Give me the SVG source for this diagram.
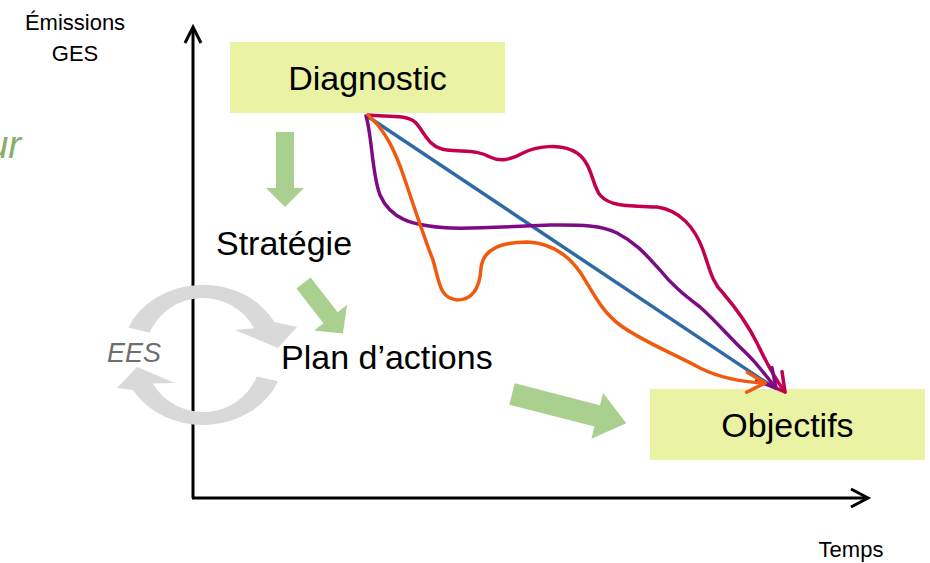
<svg xmlns="http://www.w3.org/2000/svg" width="930" height="563" viewBox="0 0 930 563">
  <style>
    .lbl { font-family: "Liberation Sans", Arial, sans-serif; fill: #000; }
    .big { font-size: 34px; }
    .small { font-size: 22px; }
    .box { fill: #e9f3a3; }
    .garrow { fill: #a9d08e; }
    .gray { fill: #d9d9d9; }
    .axis { stroke: #000; stroke-width: 3; fill: none; }
    .curve { fill: none; stroke-width: 3.5; stroke-linecap: round; stroke-linejoin: round; }
  </style>
  <defs>
    <marker id="mCrimson" markerUnits="userSpaceOnUse" markerWidth="30" markerHeight="30" viewBox="0 0 30 30" refX="26" refY="15" orient="auto">
      <path d="M8,5 L26,15 L8,25" fill="none" stroke="#c3004f" stroke-width="3.5" stroke-linecap="round" stroke-linejoin="round"/>
    </marker>
    <marker id="mPurple" markerUnits="userSpaceOnUse" markerWidth="30" markerHeight="30" viewBox="0 0 30 30" refX="26" refY="15" orient="auto">
      <path d="M8,5 L26,15 L8,25" fill="none" stroke="#7e0b86" stroke-width="3.5" stroke-linecap="round" stroke-linejoin="round"/>
    </marker>
    <marker id="mOrange" markerUnits="userSpaceOnUse" markerWidth="30" markerHeight="30" viewBox="0 0 30 30" refX="26" refY="15" orient="auto">
      <path d="M8,5 L26,15 L8,25" fill="none" stroke="#f05a0e" stroke-width="3.5" stroke-linecap="round" stroke-linejoin="round"/>
    </marker>
  </defs>

  <rect width="930" height="563" fill="#ffffff"/>

  <!-- partial cropped text at left -->
  <text x="21" y="158" font-family="Liberation Sans, Arial, sans-serif" font-size="38" font-style="italic" fill="#8aac6f" text-anchor="end">ur</text>

  <!-- axes -->
  <g id="axes">
    <line class="axis" x1="193" y1="28" x2="193" y2="498"/>
    <line class="axis" x1="192" y1="498" x2="867" y2="498"/>
    <polyline class="axis" points="185,43 193,27 201,43"/>
    <polyline class="axis" points="851,489 868,498 851,507"/>
    <text class="lbl small" x="75" y="30" text-anchor="middle">Émissions</text>
    <text class="lbl small" x="75" y="61" text-anchor="middle">GES</text>
    <text class="lbl small" x="851" y="557" text-anchor="middle">Temps</text>
  </g>

  <!-- EES cycle -->
  <g id="ees">
    <path class="gray" d="M128.3,327.6 A81,70 0 0 1 274.5,322.1 L297,327 L278,348 L235,330 L254.2,328.2 A58,57 0 0 0 149.6,332.7 Z"/>
    <path class="gray" d="M278.1,381.2 A81,70 0 0 1 132.9,390 L117,388 L137,367 L175,383 L152.8,383.5 A58,57 0 0 0 256.8,376.4 Z"/>
    <text x="107" y="362" font-family="Liberation Sans, Arial, sans-serif" font-size="27" font-style="italic" fill="#6f6f6f">EES</text>
  </g>

  <!-- nodes -->
  <g id="diagnostic">
    <rect class="box" x="230" y="42" width="275" height="71"/>
    <text class="lbl big" x="367.5" y="90" text-anchor="middle">Diagnostic</text>
  </g>
  <g id="strategie">
    <text class="lbl big" x="216" y="255">Stratégie</text>
  </g>
  <g id="plan">
    <text class="lbl big" x="281" y="369">Plan d’actions</text>
  </g>
  <g id="objectifs">
    <rect class="box" x="650" y="389" width="275" height="71"/>
    <text class="lbl big" x="787.5" y="437" text-anchor="middle">Objectifs</text>
  </g>

  <!-- connectors -->
  <g id="connectors">
    <polygon class="garrow" points="276,132 294,132 294,188 304,188 285,207 266,188 276,188"/>
    <polygon class="garrow" transform="translate(303.5,283) rotate(52)" points="0,-9 44,-9 44,-21 64,0 44,21 44,9 0,9"/>
    <polygon class="garrow" transform="translate(512,394) rotate(14.4)" points="0,-11 88,-11 88,-23.5 118,0 88,23.5 88,11 0,11"/>

    <line x1="367" y1="116" x2="770" y2="385" stroke="#2e6ba6" stroke-width="3.5" stroke-linecap="round"/>
    <path class="curve" stroke="#c3004f" marker-end="url(#mCrimson)" d="M368,115 C385,117 405,114 415,122 C425,132 428,148 447,150 C465,152 478,150 490,157 C500,162 510,160 523,153 C535,147 560,142 577,153 C592,163 592,185 600,195 C610,207 630,206 657,207 C680,210 695,228 703,250 C710,270 712,282 723,293 C735,307 748,325 757,343 C763,355 772,375 785,392"/>
    <path class="curve" stroke="#7e0b86" marker-end="url(#mPurple)" d="M366,116 C372,135 372,175 380,195 C390,218 410,226 450,228 C480,229 520,226 550,225 C575,225 600,224 617,233 C640,245 650,260 660,270 C672,285 683,294 700,307 C715,320 730,338 745,352 C757,363 765,375 776,388"/>
    <path class="curve" stroke="#f05a0e" marker-end="url(#mOrange)" d="M368,115 C385,130 395,150 405,180 C415,210 425,240 433,260 C440,285 440,298 457,300 C475,300 480,285 481,268 C483,250 500,242 527,242 C550,243 568,255 580,272 C592,290 600,310 620,325 C640,340 670,352 700,368 C720,378 740,382 765,383"/>
  </g>
</svg>
